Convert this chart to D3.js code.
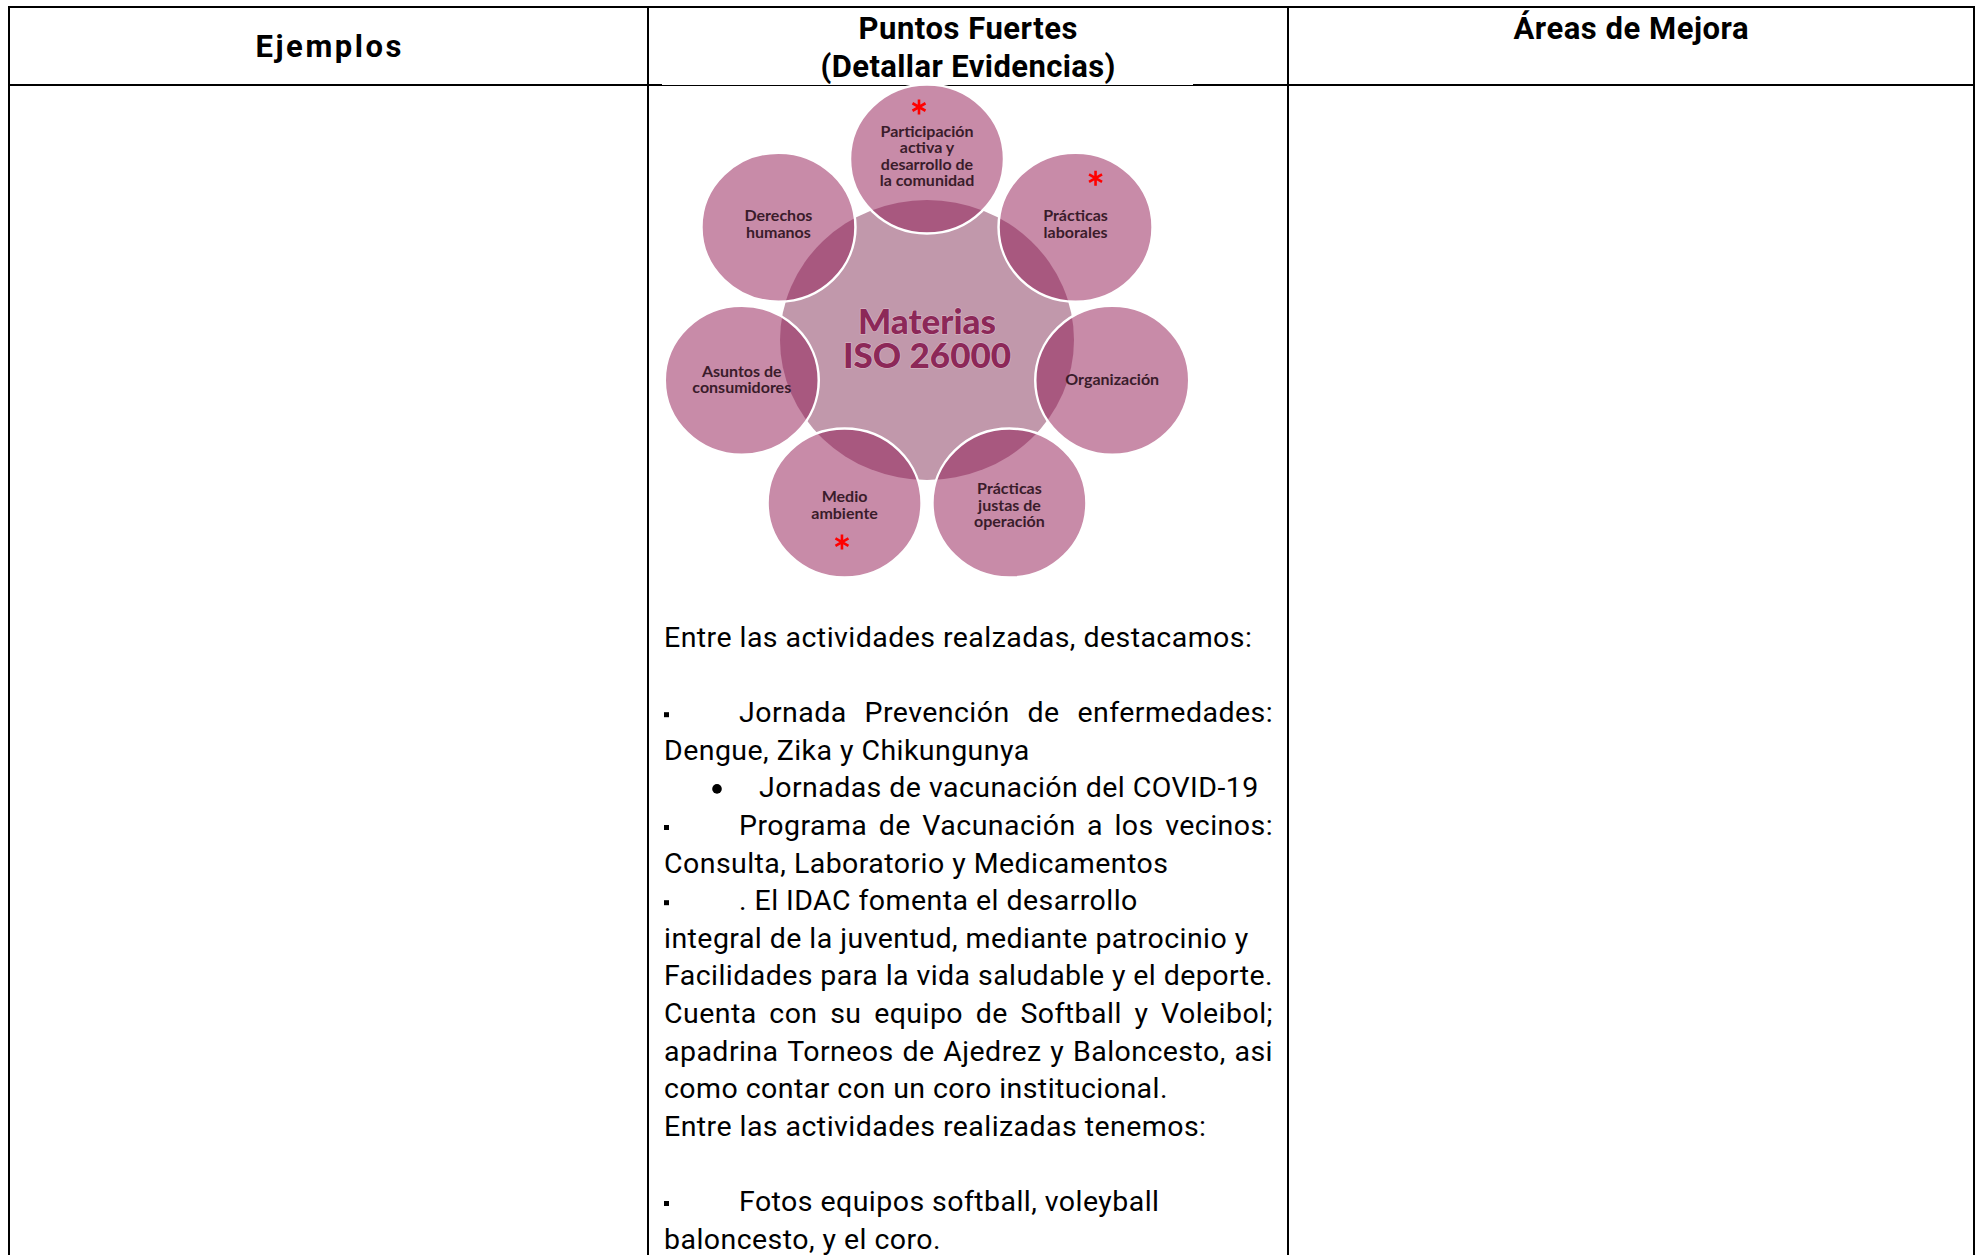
<!DOCTYPE html>
<html><head><meta charset="utf-8">
<script src="https://cdn.jsdelivr.net/npm/d3@7"></script>
<style>html,body{margin:0;padding:0;background:#fff;overflow:hidden} svg{display:block}</style>
</head><body>
<script>
// ---------- DATA ----------
const headers = ["Ejemplos", "Puntos Fuertes\n(Detallar Evidencias)", "Áreas de Mejora"];
const centerTitle = ["Materias", "ISO 26000"];
const materias = [
  "Participación\nactiva y\ndesarrollo de\nla comunidad",
  "Prácticas\nlaborales",
  "Organización",
  "Prácticas\njustas de\noperación",
  "Medio\nambiente",
  "Asuntos de\nconsumidores",
  "Derechos\nhumanos"
];
const destacadas = [materias[0], materias[1], materias[4]];
const bodyKinds = ["plain","blank","square","plain","dot","square","plain","square","plain","plain","plain","plain","plain","plain","blank","square","plain"];
const bodyTexts = [
  "Entre las actividades realzadas, destacamos:",
  "",
  "Jornada Prevención de enfermedades:",
  "Dengue, Zika y Chikungunya",
  "Jornadas de vacunación del COVID-19",
  "Programa de Vacunación a los vecinos:",
  "Consulta, Laboratorio y Medicamentos",
  ". El IDAC fomenta el desarrollo",
  "integral de la juventud, mediante patrocinio y",
  "Facilidades para la vida saludable y el deporte.",
  "Cuenta con su equipo de Softball y Voleibol;",
  "apadrina Torneos de Ajedrez y Baloncesto, asi",
  "como contar con un coro institucional.",
  "Entre las actividades realizadas tenemos:",
  "",
  "Fotos equipos softball, voleyball",
  "baloncesto, y el coro."
];
const justifiedLines = [2, 5, 9, 10, 11];

// ---------- LAYOUT ----------
const W = 1977, H = 1255;
const svg = d3.select("body").append("svg").attr("width", W).attr("height", H);
const colX = [9, 648, 1288, 1974];
const topY = 7, headY = 85;

// table lines
const lines = svg.append("g").attr("stroke", "#000").attr("shape-rendering", "crispEdges");
lines.append("line").attr("x1", colX[0]-1).attr("x2", colX[3]+1).attr("y1", topY).attr("y2", topY).attr("stroke-width", 2);
lines.append("line").attr("x1", colX[0]-1).attr("x2", 662).attr("y1", headY).attr("y2", headY).attr("stroke-width", 2);
lines.append("line").attr("x1", 662).attr("x2", 1193).attr("y1", headY).attr("y2", headY).attr("stroke-width", 1);
lines.append("line").attr("x1", 1193).attr("x2", colX[3]+1).attr("y1", headY).attr("y2", headY).attr("stroke-width", 2);
colX.forEach(x => lines.append("line").attr("x1", x).attr("x2", x).attr("y1", topY-1).attr("y2", H).attr("stroke-width", 2));

// headers
const hdrFont = "Roboto, 'DejaVu Sans', sans-serif";
const hdr = svg.append("g").attr("font-family", hdrFont).attr("font-weight", 700).attr("font-size", 31).attr("fill", "#000").attr("text-anchor", "middle");
const hdrBase = [[57], [39, 77], [39]];
const hdrLen = [[146], [219, 295], [235]];
headers.forEach((h, i) => {
  const cx = (colX[i] + colX[i+1]) / 2;
  h.split("\n").forEach((t, j) => {
    hdr.append("text").attr("x", cx).attr("y", hdrBase[i][j]).attr("textLength", hdrLen[i][j]).attr("lengthAdjust", "spacing").text(t);
  });
});

// ---------- DIAGRAM ----------
const cx0 = 927, cy0 = 340, Rx = 190, Ry = 181, oRx = 77, oRy = 74.5, cRx = 147, cRy = 140;
const ang = d3.scaleLinear().domain([0, materias.length]).range([-Math.PI/2, 3*Math.PI/2]);
const nodes = materias.map((m, i) => ({name: m, x: cx0 + Rx*Math.cos(ang(i)), y: cy0 + Ry*Math.sin(ang(i)), i}));
const cOuter = "#c88ba8", cCenter = "#c198ab", cOverlap = "#a8587f", cLabel = "#3a1c2b", cTitle = "#8c2858";

const dg = svg.append("g");
const defs = svg.append("defs");
nodes.forEach(n => {
  defs.append("clipPath").attr("id", "clip" + n.i).append("ellipse").attr("cx", n.x).attr("cy", n.y).attr("rx", oRx).attr("ry", oRy);
});
dg.append("ellipse").attr("cx", cx0).attr("cy", cy0).attr("rx", cRx).attr("ry", cRy).attr("fill", cCenter);
dg.selectAll("ellipse.outer").data(nodes).join("ellipse").attr("class", "outer")
  .attr("cx", d => d.x).attr("cy", d => d.y).attr("rx", oRx).attr("ry", oRy).attr("fill", cOuter);
dg.selectAll("ellipse.ov").data(nodes).join("ellipse").attr("class", "ov")
  .attr("clip-path", d => `url(#clip${d.i})`)
  .attr("cx", cx0).attr("cy", cy0).attr("rx", cRx).attr("ry", cRy).attr("fill", cOverlap);
dg.selectAll("ellipse.rim").data(nodes).join("ellipse").attr("class", "rim")
  .attr("cx", d => d.x).attr("cy", d => d.y).attr("rx", oRx).attr("ry", oRy).attr("fill", "none")
  .attr("stroke", "#fff").attr("stroke-width", 2.5);

// labels
const lh = 16.4;
const labelShift = [-3, -3, -1, 2, 2, -1, -3];
const lab = dg.append("g").attr("font-family", "Lato, 'Open Sans', sans-serif").attr("font-weight", 700)
  .attr("font-size", 16).attr("fill", cLabel).attr("text-anchor", "middle");
nodes.forEach(n => {
  const parts = n.name.split("\n");
  parts.forEach((t, j) => {
    lab.append("text").attr("x", n.x).attr("y", n.y + labelShift[n.i] + (j - (parts.length-1)/2)*lh + 5.5).text(t);
  });
});

// title
const tt = dg.append("g").attr("font-family", "Lato, 'Open Sans', sans-serif").attr("font-weight", 900)
  .attr("font-size", 35).attr("fill", cTitle).attr("text-anchor", "middle")
  .attr("stroke", "#dcb8c8").attr("stroke-width", 1.2).attr("paint-order", "stroke");
tt.append("text").attr("x", cx0).attr("y", 334).text(centerTitle[0]);
tt.append("text").attr("x", cx0).attr("y", 368).text(centerTitle[1]);

// stars
const starOffset = {0: [-8, -52], 1: [20, -49], 4: [-2.6, 39]};
const starPath = (() => { const p = d3.path(); [90, 30, 150].forEach(a => { const r = a*Math.PI/180, L = 7.5; p.moveTo(-L*Math.cos(r), -L*Math.sin(r)); p.lineTo(L*Math.cos(r), L*Math.sin(r)); }); return p.toString(); })();
nodes.filter(n => destacadas.includes(n.name)).forEach(n => {
  const o = starOffset[n.i];
  dg.append("path").attr("d", starPath).attr("transform", `translate(${n.x + o[0]},${n.y + o[1]})`)
    .attr("stroke", "#ff0000").attr("stroke-width", 2.6).attr("fill", "none");
});

// ---------- BODY TEXT ----------
const yLine = d3.scaleLinear().domain([0, 16]).range([647, 1248.6]);
const xLeft = 664, xTab = 739, xDotText = 759, xRight = 1273;
const body = svg.append("g").attr("font-family", "Roboto, 'DejaVu Sans', sans-serif")
  .attr("font-size", 28.5).attr("letter-spacing", 0.45).attr("fill", "#000");
bodyTexts.forEach((t, i) => {
  const k = bodyKinds[i];
  if (k === "blank") return;
  const y = yLine(i);
  let x = xLeft;
  if (k === "square") { body.append("rect").attr("x", xLeft).attr("y", y - 10).attr("width", 5).attr("height", 5); x = xTab; }
  if (k === "dot") { body.append("circle").attr("cx", 717).attr("cy", y - 8.5).attr("r", 4.8); x = xDotText; }
  if (!justifiedLines.includes(i)) {
    body.append("text").attr("x", x).attr("y", y).text(t);
  } else {
    const words = t.split(" ");
    const els = words.map(w => body.append("text").attr("y", y).text(w));
    const widths = els.map(e => e.node().getComputedTextLength());
    const total = d3.sum(widths);
    const gap = (xRight - x - total) / (words.length - 1);
    let cx = x;
    els.forEach((e, j) => { e.attr("x", cx); cx += widths[j] + gap; });
  }
});
</script>
</body></html>
